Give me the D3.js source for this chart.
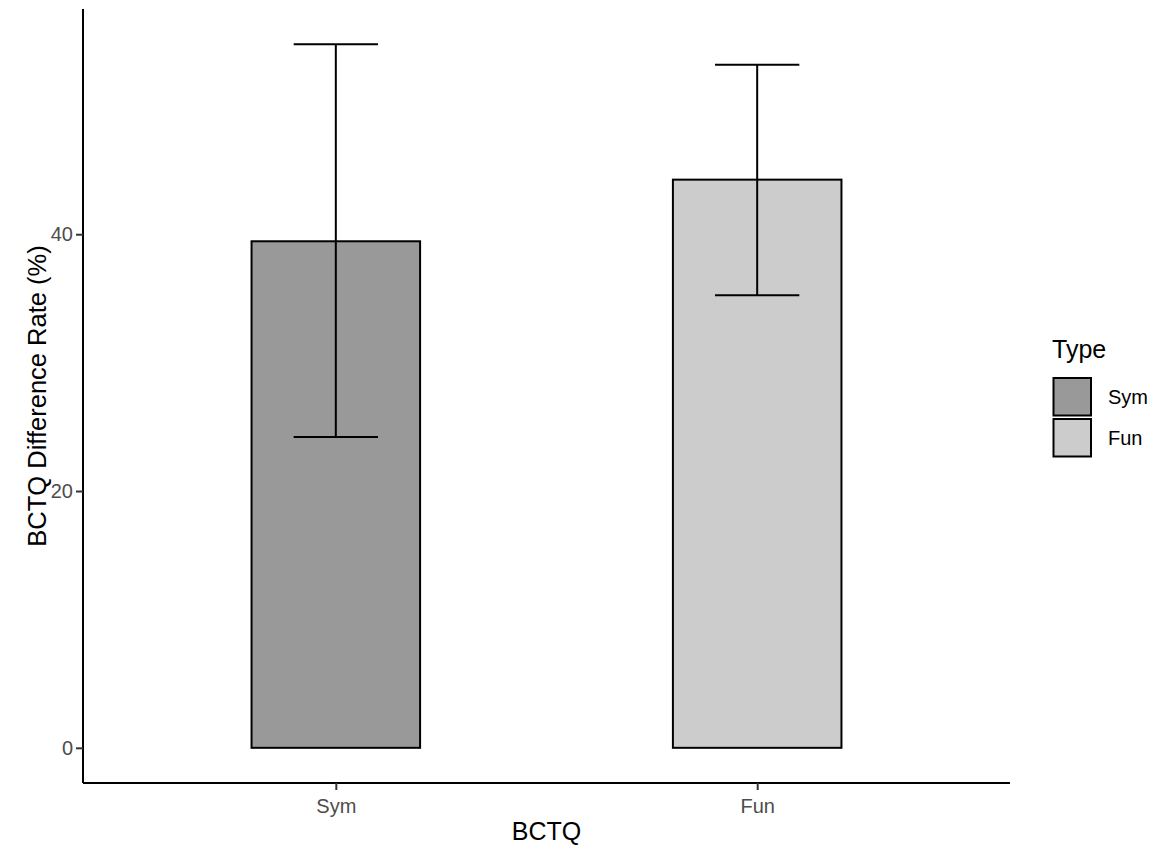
<!DOCTYPE html>
<html>
<head>
<meta charset="utf-8">
<script src="https://cdn.jsdelivr.net/npm/d3@7"></script>
<style>
  body { margin: 0; background: #fff; }
  text { font-family: "Liberation Sans", Arial, sans-serif; }
</style>
</head>
<body>
<svg id="chart"></svg>
<script>
// data
const categories = ["Sym", "Fun"];
const means = [39.45, 44.25];
const lower = [24.2, 35.25];
const upper = [54.8, 53.2];
const fills = ["#999999", "#cccccc"];
const yTicks = [0, 20, 40];

const W = 1157, H = 849;
const margin = { top: 9, right: 147, bottom: 66, left: 83 };
const width = W - margin.left - margin.right,
      height = H - margin.top - margin.bottom;

const svg = d3.select("#chart").attr("width", W).attr("height", H);
const g = svg.append("g").attr("transform", `translate(${margin.left},${margin.top})`);

// y scale with ggplot-like 5% expansion
const yMax = d3.max(upper), yMin = 0;
const pad = (yMax - yMin) * 0.05;
const y = d3.scaleLinear().domain([yMin - pad, yMax + pad]).range([height, 0]);

// discrete x: positions 1..n, expanded by 0.6
const xc = d3.scaleLinear().domain([0.4, categories.length + 0.6]).range([0, width]);
const unit = xc(2) - xc(1);
const barW = 0.4 * unit, capW = 0.2 * unit;

// bars
g.selectAll("rect.bar").data(categories).enter().append("rect")
  .attr("class", "bar")
  .attr("x", (d, i) => xc(i + 1) - barW / 2)
  .attr("y", (d, i) => y(means[i]))
  .attr("width", barW)
  .attr("height", (d, i) => y(0) - y(means[i]))
  .attr("fill", (d, i) => fills[i])
  .attr("stroke", "#000")
  .attr("stroke-width", 2);

// error bars
const eb = g.selectAll("g.err").data(categories).enter().append("g").attr("class", "err");
eb.append("line")
  .attr("x1", (d, i) => xc(i + 1)).attr("x2", (d, i) => xc(i + 1))
  .attr("y1", (d, i) => y(lower[i])).attr("y2", (d, i) => y(upper[i]));
eb.append("line")
  .attr("x1", (d, i) => xc(i + 1) - capW / 2).attr("x2", (d, i) => xc(i + 1) + capW / 2)
  .attr("y1", (d, i) => y(upper[i])).attr("y2", (d, i) => y(upper[i]));
eb.append("line")
  .attr("x1", (d, i) => xc(i + 1) - capW / 2).attr("x2", (d, i) => xc(i + 1) + capW / 2)
  .attr("y1", (d, i) => y(lower[i])).attr("y2", (d, i) => y(lower[i]));
eb.selectAll("line").attr("stroke", "#000").attr("stroke-width", 2);

// axes
const yAxis = g.append("g")
  .call(d3.axisLeft(y).tickValues(yTicks).tickSize(7).tickPadding(3));
const xAxis = g.append("g").attr("transform", `translate(0,${height})`)
  .call(d3.axisBottom(xc).tickValues(categories.map((d, i) => i + 1))
    .tickFormat((d) => categories[d - 1]).tickSize(7).tickPadding(9));
[yAxis, xAxis].forEach(a => {
  a.select(".domain").attr("stroke", "#000").attr("stroke-width", 2)
    .attr("d", a === yAxis ? `M0,0V${height}` : `M0,0H${width}`);
  a.selectAll(".tick line").attr("stroke", "#333").attr("stroke-width", 2);
  a.selectAll(".tick text").attr("fill", "#4d4d4d").style("font-size", "20px");
});

// axis titles
svg.append("text")
  .attr("x", margin.left + width / 2).attr("y", 840)
  .attr("text-anchor", "middle").style("font-size", "25px").text("BCTQ");
svg.append("text")
  .attr("transform", `translate(46,${margin.top + height / 2}) rotate(-90)`)
  .attr("text-anchor", "middle").style("font-size", "25.5px")
  .text("BCTQ Difference Rate (%)");

// legend
const legend = svg.append("g").attr("transform", "translate(1052,358)");
legend.append("text").attr("x", 0).attr("y", 0).style("font-size", "25px").text("Type");
categories.forEach((c, i) => {
  const row = legend.append("g").attr("transform", `translate(0,${19 + i * 41})`);
  row.append("rect").attr("x", 1.5).attr("y", 1).attr("width", 37.5).attr("height", 37.5)
    .attr("fill", fills[i]).attr("stroke", "#000").attr("stroke-width", 2);
  row.append("text").attr("x", 56).attr("y", 20).attr("dy", "0.35em")
    .style("font-size", "20px").text(c);
});
</script>
</body>
</html>
